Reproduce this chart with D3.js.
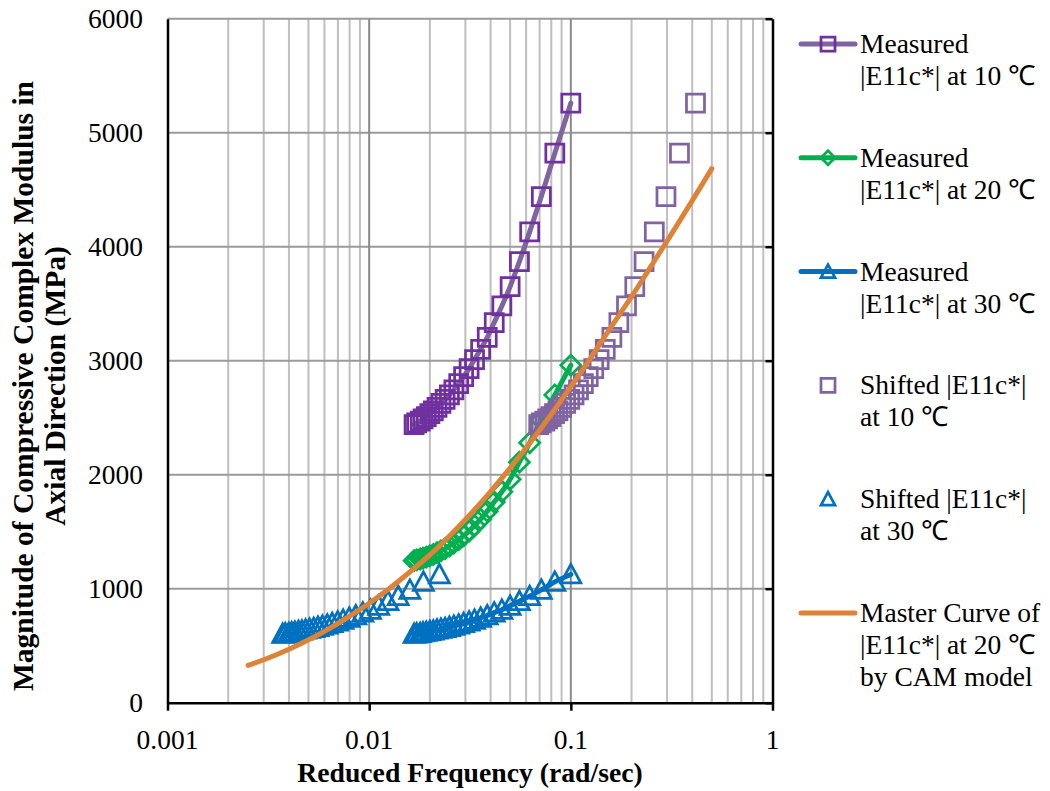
<!DOCTYPE html>
<meta charset="utf-8">
<script src="https://d3js.org/d3.v7.min.js"></script>
<style>
  body { margin: 0; background: #fff; }
  text { font-family: 'Liberation Serif', 'Times New Roman', serif; fill: #000; }
</style>
<body></body>
<script>

// measured frequencies (rad/sec)
var freq = [0.1, 0.0833, 0.0714, 0.0625, 0.0556, 0.05, 0.0455, 0.0417, 0.0385, 0.0357,
            0.0333, 0.0313, 0.0294, 0.0278, 0.0263, 0.025, 0.0238, 0.0227, 0.0217, 0.0208,
            0.02, 0.0192, 0.0185, 0.0179, 0.0172, 0.0167];

// |E11c*| (MPa)
var e10 = [5260, 4820, 4440, 4130, 3870, 3650, 3480, 3335, 3205, 3100,
           3010, 2930, 2860, 2800, 2745, 2700, 2660, 2625, 2590, 2560,
           2535, 2510, 2490, 2470, 2455, 2440];
var e20 = [2960, 2700, 2480, 2280, 2110, 1960, 1850, 1760, 1680, 1610,
           1555, 1505, 1465, 1430, 1400, 1375, 1352, 1332, 1315, 1300,
           1288, 1277, 1268, 1260, 1253, 1246];
var e30 = [1125, 1060, 990, 935, 890, 850, 815, 790, 765, 745,
           727, 711, 697, 685, 674, 664, 655, 647, 640, 633,
           627, 621, 616, 611, 607, 603];

// shift factors to 20 C
var shift10 = 4.15;
var shift30 = 0.223;

// CAM model master curve at 20 C
var masterFreq = [0.00251, 0.00316, 0.00398, 0.00501, 0.00631, 0.00794, 0.01, 0.0126,
                  0.0158, 0.02, 0.0251, 0.0316, 0.0398, 0.0501, 0.0631, 0.0794, 0.1,
                  0.126, 0.158, 0.2, 0.251, 0.316, 0.398, 0.5];
var masterE = [327, 392, 467, 552, 648, 755, 873, 1002, 1142, 1296, 1465, 1649,
               1848, 2060, 2285, 2522, 2772, 3030, 3293, 3561, 3834, 4113, 4398, 4685];

var xTicks = [0.001, 0.01, 0.1, 1];
var xTickLabels = ["0.001", "0.01", "0.1", "1"];
var yTicks = [0, 1000, 2000, 3000, 4000, 5000, 6000];

var width = 1050, height = 791;
var pLeft = 167.5, pRight = 772.5, pTop = 18.7, pBottom = 702.7;

var x = d3.scaleLog().domain([0.001, 1]).range([pLeft, pRight]);
var y = d3.scaleLinear().domain([0, 6000]).range([pBottom, pTop]);

var svg = d3.select("body").append("svg")
    .attr("width", width)
    .attr("height", height);

// grid
var minor = x.ticks().filter(function(d) { return xTicks.indexOf(d) < 0; });
svg.append("g").selectAll("line").data(minor).enter().append("line")
    .attr("x1", x).attr("x2", x).attr("y1", pTop).attr("y2", pBottom)
    .attr("stroke", "#bfbfbf").attr("stroke-width", 2);
svg.append("g").selectAll("line").data(yTicks.slice(1)).enter().append("line")
    .attr("x1", pLeft).attr("x2", pRight).attr("y1", y).attr("y2", y)
    .attr("stroke", "#9a9a9a").attr("stroke-width", 2);
svg.append("g").selectAll("line").data([0.01, 0.1]).enter().append("line")
    .attr("x1", x).attr("x2", x).attr("y1", pTop).attr("y2", pBottom)
    .attr("stroke", "#8a8a8a").attr("stroke-width", 2);

// axes
svg.append("g")
    .attr("transform", "translate(0," + pBottom + ")")
    .call(d3.axisBottom(x).tickValues(xTicks).tickFormat("").tickSizeInner(8).tickSizeOuter(0))
    .call(function(g) {
      g.select(".domain").attr("stroke", "#000").attr("stroke-width", 2.5);
      g.selectAll(".tick line").attr("stroke", "#000").attr("stroke-width", 2.5);
    });
svg.append("g")
    .attr("transform", "translate(" + pLeft + ",0)")
    .call(d3.axisLeft(y).tickValues(yTicks).tickFormat("").tickSize(0))
    .call(function(g) {
      g.select(".domain").attr("stroke", "#000").attr("stroke-width", 2.5);
    });
svg.append("g")
    .attr("transform", "translate(" + pRight + ",0)")
    .call(d3.axisLeft(y).tickValues(yTicks).tickFormat("").tickSizeOuter(0))
    .call(function(g) {
      g.select(".domain").attr("stroke", "#000").attr("stroke-width", 2.5);
      g.selectAll(".tick line").attr("stroke", "#000").attr("stroke-width", 2.5)
          .attr("x2", -7);
    });

// tick labels
svg.append("g").selectAll("text").data(xTicks).enter().append("text")
    .attr("x", x).attr("y", 749)
    .attr("text-anchor", "middle")
    .style("font-size", "27.5px")
    .text(function(d, i) { return xTickLabels[i]; });
svg.append("g").selectAll("text").data(yTicks).enter().append("text")
    .attr("x", 143).attr("y", function(d) { return y(d) + 9.5; })
    .attr("text-anchor", "end")
    .style("font-size", "27.5px")
    .text(function(d) { return d; });

// titles
svg.append("text")
    .attr("x", 470).attr("y", 782)
    .attr("text-anchor", "middle")
    .style("font-size", "27.7px").style("font-weight", "bold")
    .text("Reduced Frequency (rad/sec)");
var yTitle = ["Magnitude of Compressive Complex Modulus in", "Axial Direction (MPa)"];
svg.append("g").selectAll("text").data(yTitle).enter().append("text")
    .attr("transform", function(d, i) { return "translate(" + (33 + i * 32) + ",386) rotate(-90)"; })
    .attr("text-anchor", "middle")
    .style("font-size", "29.5px").style("font-weight", "bold")
    .text(function(d) { return d; });

// marker paths
function square(s) { return "M" + (-s) + "," + (-s) + "H" + s + "V" + s + "H" + (-s) + "Z"; }
function diamond(s) { return "M0," + (-s) + "L" + s + ",0L0," + s + "L" + (-s) + ",0Z"; }
function triangle(s) { return "M0," + (-s) + "L" + s + "," + (s * 0.85) + "H" + (-s) + "Z"; }

var line = d3.line().x(function(d) { return x(d[0]); }).y(function(d) { return y(d[1]); });

function pairs(fs, es, k) {
  return fs.map(function(f, i) { return [f * k, es[i]]; });
}

function drawSeries(data, lineColor, markerColor, shape, size) {
  var g = svg.append("g");
  if (lineColor) {
    g.append("path").datum(data)
        .attr("d", line.curve(d3.curveMonotoneX))
        .attr("fill", "none").attr("stroke", lineColor)
        .attr("stroke-width", 5).attr("stroke-linecap", "round");
  }
  g.selectAll(".m").data(data).enter().append("path")
      .attr("class", "m")
      .attr("transform", function(d) { return "translate(" + x(d[0]) + "," + y(d[1]) + ")"; })
      .attr("d", shape(size))
      .attr("fill", "none").attr("stroke", markerColor).attr("stroke-width", 2.75);
}

var purple = "#7030a0", lilac = "#8064a2", green = "#00b050", blue = "#0070c0", orange = "#df8236";

drawSeries(pairs(freq, e10, 1), lilac, purple, square, 9);
drawSeries(pairs(freq, e20, 1), green, green, diamond, 10);
drawSeries(pairs(freq, e30, 1), blue, blue, triangle, 10);
drawSeries(pairs(freq, e10, shift10), null, lilac, square, 9);
drawSeries(pairs(freq, e30, shift30), null, blue, triangle, 10);

svg.append("path").datum(masterFreq.map(function(f, i) { return [f, masterE[i]]; }))
    .attr("d", line.curve(d3.curveMonotoneX))
    .attr("fill", "none").attr("stroke", orange)
    .attr("stroke-width", 5).attr("stroke-linecap", "round");

// legend
var legend = [
  {lines: ["Measured", "|E11c*| at 10 \u2103"], line: lilac, marker: purple, shape: square, s: 7},
  {lines: ["Measured", "|E11c*| at 20 \u2103"], line: green, marker: green, shape: diamond, s: 7},
  {lines: ["Measured", "|E11c*| at 30 \u2103"], line: blue, marker: blue, shape: triangle, s: 7},
  {lines: ["Shifted |E11c*|", "at 10 \u2103"], line: null, marker: lilac, shape: square, s: 7},
  {lines: ["Shifted |E11c*|", "at 30 \u2103"], line: null, marker: blue, shape: triangle, s: 7},
  {lines: ["Master Curve of", "|E11c*| at 20 \u2103", "by CAM model"], line: orange, marker: null}
];
var lg = svg.append("g").selectAll("g").data(legend).enter().append("g")
    .attr("transform", function(d, i) { return "translate(0," + (44 + i * 113.8) + ")"; });
lg.filter(function(d) { return d.line; }).append("line")
    .attr("x1", 801).attr("x2", 855)
    .attr("stroke", function(d) { return d.line; })
    .attr("stroke-width", 5).attr("stroke-linecap", "round");
lg.filter(function(d) { return d.marker; }).append("path")
    .attr("transform", "translate(828,0)")
    .attr("d", function(d) { return d.shape(d.s); })
    .attr("fill", "none")
    .attr("stroke", function(d) { return d.marker; }).attr("stroke-width", 2.75);
lg.selectAll("text").data(function(d) { return d.lines; }).enter().append("text")
    .attr("x", 860).attr("y", function(d, i) { return 9 + i * 32; })
    .style("font-size", "27.5px")
    .text(function(d) { return d; });

</script>
